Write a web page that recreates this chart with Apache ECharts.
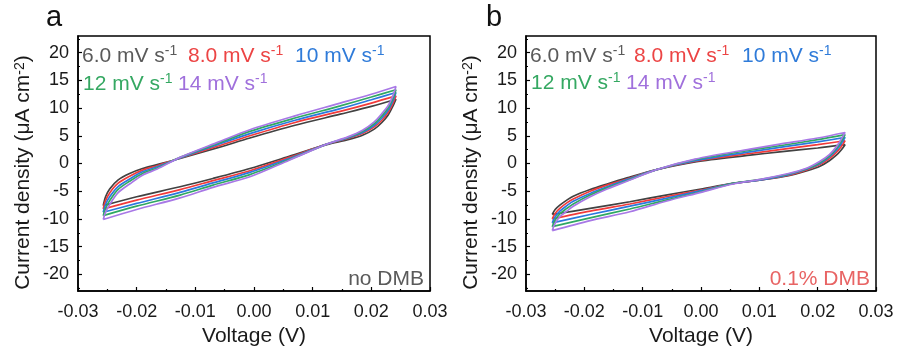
<!DOCTYPE html>
<html>
<head>
<meta charset="utf-8">
<script src="https://cdn.jsdelivr.net/npm/echarts@6/dist/echarts.min.js"></script>
<style>
  html, body { margin: 0; padding: 0; background: #fff; }
  #chart { width: 901px; height: 352px; }
</style>
</head>
<body>
<div id="chart"></div>
<script>
// scan rates (mV/s) and colours
const rates = ['6.0', '8.0', '10', '12', '14'];
const lineColors = ['#424242', '#f23a3a', '#2b78de', '#2fa862', '#a878e6'];
const textColors = ['#5a5a5a', '#ec4444', '#2f7bd9', '#35a862', '#a070dc'];

// panel a (no DMB): forward branch voltages, return branch voltages
const aUpV = [-0.0257, -0.0253, -0.0246, -0.0232, -0.0212, -0.0190, -0.0165, -0.0126, -0.0060, -0.0007, 0.0070, 0.0147, 0.0200, 0.0242];
const aUp6 = [-7.6, -6.0, -4.6, -3.0, -1.8, -0.9, -0.2, 0.9, 2.9, 4.6, 6.9, 8.9, 10.3, 11.6];
const aUp8 = [-8.2, -6.7, -5.3, -3.6, -2.3, -1.2, -0.4, 1.0, 3.2, 5.0, 7.4, 9.4, 10.9, 12.2];
const aUp10 = [-8.8, -7.4, -6.0, -4.2, -2.8, -1.5, -0.6, 1.0, 3.5, 5.4, 7.8, 9.9, 11.5, 12.8];
const aUp12 = [-9.4, -8.1, -6.7, -4.7, -3.2, -1.8, -0.8, 1.1, 3.7, 5.8, 8.2, 10.4, 12.0, 13.3];
const aUp14 = [-10.1, -8.8, -7.4, -5.3, -3.7, -2.1, -1.0, 1.1, 3.9, 6.1, 8.6, 10.9, 12.5, 13.9];

const aLoV = [0.0242, 0.0237, 0.0229, 0.0218, 0.0205, 0.0185, 0.0160, 0.0124, 0.0060, -0.0007, -0.0070, -0.0126, -0.0200, -0.0257];
const aLo6 = [11.6, 10.4, 8.8, 7.4, 6.2, 5.1, 4.3, 3.4, 1.3, -0.9, -2.7, -4.2, -6.0, -7.6];
const aLo8 = [12.2, 10.9, 9.3, 7.8, 6.6, 5.4, 4.5, 3.5, 1.1, -1.3, -3.1, -4.7, -6.6, -8.2];
const aLo10 = [12.8, 11.4, 9.7, 8.2, 6.9, 5.6, 4.6, 3.5, 0.9, -1.6, -3.5, -5.2, -7.2, -8.8];
const aLo12 = [13.3, 11.8, 10.1, 8.6, 7.2, 5.8, 4.7, 3.5, 0.7, -2.0, -3.9, -5.7, -7.7, -9.4];
const aLo14 = [13.9, 12.3, 10.5, 9.0, 7.5, 6.0, 4.8, 3.5, 0.6, -2.4, -4.3, -6.2, -8.3, -10.1];

// panel b (0.1% DMB)
const bUpV = [-0.0255, -0.0250, -0.0242, -0.0230, -0.0219, -0.0190, -0.0161, -0.0127, -0.0076, -0.0010, 0.0084, 0.0135, 0.0200, 0.0247];
const bUp6 = [-9.2, -8.3, -7.5, -6.6, -5.9, -4.7, -3.7, -2.6, -1.1, 0.3, 1.5, 2.1, 2.8, 3.4];
const bUp8 = [-10.0, -9.0, -8.1, -7.1, -6.4, -5.0, -3.9, -2.8, -1.1, 0.4, 1.8, 2.5, 3.4, 4.1];
const bUp10 = [-10.7, -9.6, -8.6, -7.6, -6.8, -5.4, -4.2, -2.9, -1.1, 0.5, 2.1, 2.9, 3.9, 4.7];
const bUp12 = [-11.4, -10.2, -9.1, -8.1, -7.3, -5.7, -4.4, -3.1, -1.1, 0.7, 2.4, 3.2, 4.3, 5.2];
const bUp14 = [-12.1, -10.8, -9.6, -8.6, -7.7, -6.0, -4.6, -3.2, -1.1, 0.8, 2.6, 3.5, 4.6, 5.6];

const bLoV = [0.0247, 0.0240, 0.0232, 0.0220, 0.0204, 0.0182, 0.0150, 0.0100, 0.0055, 0.0000, -0.0060, -0.0122, -0.0190, -0.0255];
const bLo6 = [3.4, 2.4, 1.5, 0.5, -0.5, -1.3, -2.2, -3.0, -3.6, -4.6, -5.7, -6.9, -8.1, -9.2];
const bLo8 = [4.1, 3.0, 2.0, 0.9, -0.2, -1.1, -2.1, -3.0, -3.6, -4.8, -6.0, -7.3, -8.6, -10.0];
const bLo10 = [4.7, 3.5, 2.4, 1.2, 0.0, -1.0, -2.0, -3.0, -3.6, -4.9, -6.3, -7.7, -9.2, -10.7];
const bLo12 = [5.2, 3.9, 2.7, 1.4, 0.2, -0.9, -1.9, -2.9, -3.6, -5.1, -6.6, -8.2, -9.8, -11.4];
const bLo14 = [5.6, 4.3, 3.0, 1.6, 0.4, -0.8, -1.8, -2.9, -3.7, -5.2, -6.8, -8.7, -10.3, -12.1];

const yMajor = [-20, -15, -10, -5, 0, 5, 10, 15, 20];
const yMinor = [-22.5, -17.5, -12.5, -7.5, -2.5, 2.5, 7.5, 12.5, 17.5, 22.5];

const FONT = 'Liberation Sans, Arial, sans-serif';

const aUp = [aUp6, aUp8, aUp10, aUp12, aUp14];
const aLo = [aLo6, aLo8, aLo10, aLo12, aLo14];
const bUp = [bUp6, bUp8, bUp10, bUp12, bUp14];
const bLo = [bLo6, bLo8, bLo10, bLo12, bLo14];

function loop(upV, up, loV, lo) {
  return up.map((y, i) => [upV[i], y]).concat(lo.map((y, i) => [loV[i], y]));
}

function xAxisFor(grid) {
  return {
    type: 'value', gridIndex: grid, min: -0.03, max: 0.03, interval: 0.01,
    axisLine: { onZero: false, lineStyle: { color: '#000', width: 1.5 } },
    axisTick: { inside: true, length: 4, lineStyle: { color: '#000', width: 1.2 } },
    minorTick: { show: true, splitNumber: 2, length: 2, lineStyle: { color: '#000', width: 1.2 } },
    splitLine: { show: false },
    axisLabel: { color: '#1a1a1a', fontSize: 18, fontFamily: FONT, margin: 12,
      formatter: v => v.toFixed(2) },
    name: 'Voltage (V)', nameLocation: 'middle', nameGap: 35,
    nameTextStyle: { color: '#1a1a1a', fontSize: 21, fontFamily: FONT }
  };
}

function yAxesFor(grid) {
  return [{
    type: 'value', gridIndex: grid, min: -23, max: 23, position: 'left',
    axisLine: { onZero: false, lineStyle: { color: '#000', width: 1.5 } },
    axisTick: { inside: true, length: 4, customValues: yMajor, lineStyle: { color: '#000', width: 1.2 } },
    splitLine: { show: false },
    axisLabel: { color: '#1a1a1a', fontSize: 18, fontFamily: FONT, margin: 9, customValues: yMajor },
    name: 'Current density (μA cm{sup|-2})', nameLocation: 'middle', nameGap: 44, nameRotate: 90,
    nameTextStyle: { color: '#1a1a1a', fontSize: 21, fontFamily: FONT, padding: [0, 18, 0, 0],
      rich: { sup: { fontSize: 14, fontFamily: FONT, color: '#1a1a1a', verticalAlign: 'top', lineHeight: 12 } } }
  }, {
    type: 'value', gridIndex: grid, min: -23, max: 23, position: 'left',
    axisLine: { show: false, onZero: false },
    axisTick: { inside: true, length: 2, customValues: yMinor, lineStyle: { color: '#000', width: 1.2 } },
    splitLine: { show: false },
    axisLabel: { show: false }
  }];
}

const series = [];
[[aUpV, aUp, aLoV, aLo, 0], [bUpV, bUp, bLoV, bLo, 1]].forEach(([upV, up, loV, lo, g]) => {
  rates.forEach((r, k) => {
    series.push({
      type: 'line', name: r + ' mV/s', xAxisIndex: g, yAxisIndex: g * 2,
      data: loop(upV, up[k], loV, lo[k]),
      showSymbol: false, smooth: 0.3, silent: true,
      lineStyle: { color: lineColors[k], width: 1.7 }
    });
  });
});

function legendText(x, y, k) {
  return {
    type: 'text', left: x, top: y,
    style: {
      text: '{n|' + rates[k] + ' mV s}{s|-1}',
      rich: {
        n: { fontSize: 21, fontFamily: FONT, fill: textColors[k], lineHeight: 24 },
        s: { fontSize: 14, fontFamily: FONT, fill: textColors[k], verticalAlign: 'top', lineHeight: 14 }
      }
    }
  };
}

const graphic = [
  { type: 'text', left: 46, top: 3, style: { text: 'a', fontSize: 29, fontFamily: FONT, fill: '#111' } },
  { type: 'text', left: 486, top: 3, style: { text: 'b', fontSize: 29, fontFamily: FONT, fill: '#111' } },
  legendText(82, 44, 0), legendText(188, 44, 1), legendText(295, 44, 2),
  legendText(83, 72, 3), legendText(178, 72, 4),
  legendText(530, 44, 0), legendText(634, 44, 1), legendText(742, 44, 2),
  legendText(531, 71, 3), legendText(626, 71, 4),
  { type: 'text', right: 901 - 424, top: 269, style: { text: 'no DMB', fontSize: 21, fontFamily: FONT, fill: '#5a5a5a' } },
  { type: 'text', right: 901 - 870, top: 269, style: { text: '0.1% DMB', fontSize: 21, fontFamily: FONT, fill: '#e86464' } }
];

const myChart = echarts.init(document.getElementById('chart'));

let option = {
  animation: false,
  backgroundColor: '#fff',
  grid: [
    { left: 78, right: 901 - 430, top: 36, bottom: 352 - 299, show: true, borderColor: '#000', borderWidth: 1.5 },
    { left: 526, right: 901 - 876, top: 36, bottom: 352 - 299, show: true, borderColor: '#000', borderWidth: 1.5 }
  ],
  xAxis: [xAxisFor(0), xAxisFor(1)],
  yAxis: yAxesFor(0).concat(yAxesFor(1)),
  series: series,
  graphic: graphic
};

myChart.setOption(option);
</script>
</body>
</html>
